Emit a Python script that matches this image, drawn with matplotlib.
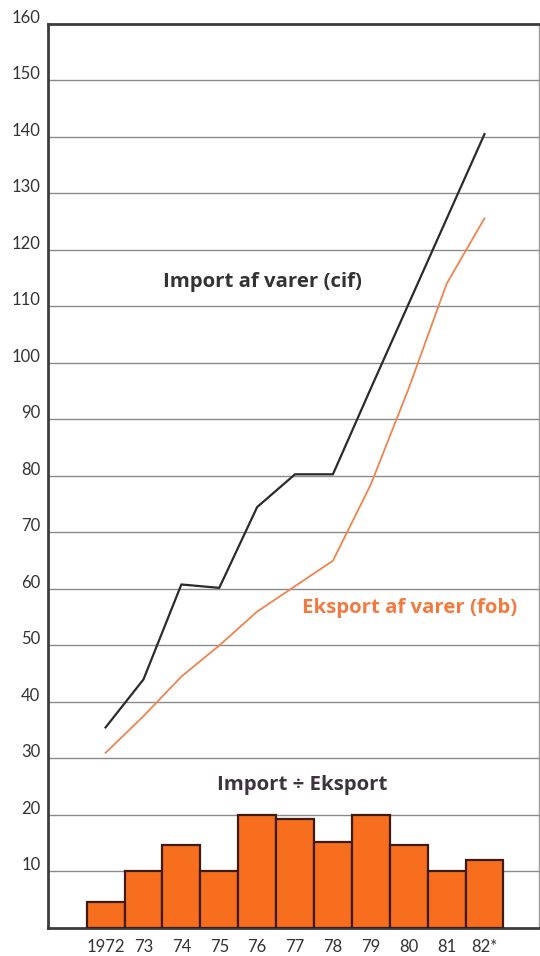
import matplotlib
matplotlib.use('Agg')
from matplotlib import pyplot as plt

years = ["1972", "73", "74", "75", "76", "77", "78", "79", "80", "81", "82*"]
imports = [35.5, 44.0, 60.8, 60.2, 74.5, 80.3, 80.3, 95.5, 110.5, 125.5, 140.5]
exports = [31.0, 37.5, 44.5, 50.0, 56.0, 60.5, 65.0, 78.5, 95.5, 114.0, 125.6]
deficit = [4.6, 10.0, 14.6, 10.0, 20.0, 19.3, 15.3, 20.0, 14.6, 10.0, 12.0]
y_ticks = list(range(10, 170, 10))

DARK = "#333333"
ORANGE_LINE = "#f0844f"
ORANGE_TEXT = "#f37a3e"
BAR_FILL = "#f76f1e"
BAR_EDGE = "#3f1a10"

plt.rcParams['font.family'] = ['Lato', 'DejaVu Sans']

fig = plt.figure(figsize=(5.4, 9.56), dpi=100)
ax = fig.add_axes([0.0889, 0.0293, 0.9093, 0.9456])

x = list(range(len(years)))

for v in y_ticks[:-1]:
    ax.axhline(v, color="#8a8a8a", lw=1.0, zorder=1)

ax.bar(x, deficit, width=1.0, color=BAR_FILL, edgecolor=BAR_EDGE, linewidth=1.6, zorder=3)
ax.plot(x, imports, color="#2b2b2b", lw=1.6, zorder=4)
ax.plot(x, exports, color=ORANGE_LINE, lw=1.3, zorder=4)

ax.set_xlim(-1.52, 11.44)
ax.set_ylim(0, 160)

for side in ["left", "top", "bottom"]:
    ax.spines[side].set_color("#3c3c3c")
    ax.spines[side].set_linewidth(2.0)
ax.spines["right"].set_color("#9a9a9a")
ax.spines["right"].set_linewidth(1.0)

ax.set_xticks(x)
ax.set_xticklabels(years)
ax.set_yticks([])
ax.tick_params(axis="x", length=0, pad=8, labelsize=12, labelcolor=DARK)

# y labels sit just above their gridlines
for v in y_ticks:
    ax.text(-1.72, v + 1.1, str(v), ha="right", va="center", fontsize=12,
            color=DARK, zorder=5, clip_on=False)

label_font = ['Open Sans', 'DejaVu Sans']
ax.text(4.14, 114.3, "Import af varer (cif)", ha="center", va="center",
        fontsize=14.7, fontweight="bold", color=DARK, family=label_font)
ax.text(8.03, 56.6, "Eksport af varer (fob)", ha="center", va="center",
        fontsize=14.7, fontweight="bold", color=ORANGE_TEXT, family=label_font)
ax.text(5.18, 25.3, "Import \u00f7 Eksport", ha="center", va="center",
        fontsize=14.7, fontweight="bold", color="#3d3340", family=label_font)

fig.savefig("out.png", dpi=100)
